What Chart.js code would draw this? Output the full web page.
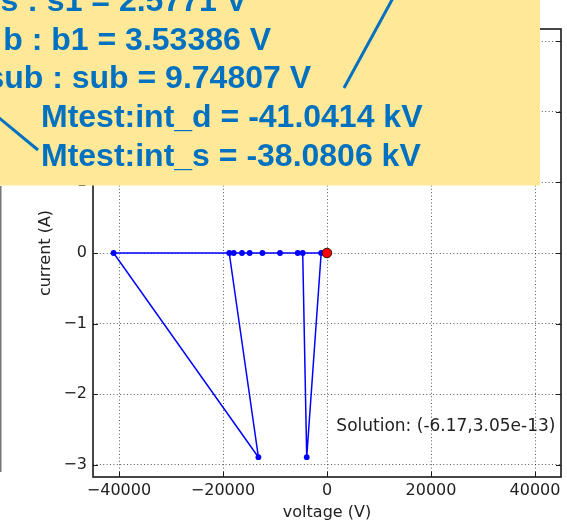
<!DOCTYPE html>
<html>
<head>
<meta charset="utf-8">
<script src="https://cdn.jsdelivr.net/npm/chart.js@4.4.1/dist/chart.umd.min.js"></script>
<style>
  html, body { margin: 0; padding: 0; background: #fff; }
  canvas { display: block; }
</style>
</head>
<body>
<canvas id="ivPlot" width="567" height="523"></canvas>
<script>
// newton iteration path: voltage (V) / current (A)
var iterVoltage = [-1120, -3900, -4670, -5630, -9040, -12420, -14870, -16350, -17940, -18800, -13190, -41041, -6.17];
var iterCurrent = [0, -2.89, 0, 0, 0, 0, 0, 0, 0, 0, -2.89, 0, 3.05e-13];

// converged point
var solVoltage = [-6.17];
var solCurrent = [3.05e-13];

var xTicks = [-40000, -20000, 0, 20000, 40000];
var yTicks = [-3, -2, -1, 0, 1, 2, 3];

// node voltages shown in the callout box
var calloutText = [
  's : s1 = 2.5771 V',
  'b : b1 = 3.53386 V',
  'sub : sub = 9.74807 V',
  'Mtest:int_d = -41.0414 kV',
  'Mtest:int_s = -38.0806 kV'
];

function toPoints(xs, ys) {
  var pts = [];
  for (var i = 0; i < xs.length; i++) pts.push({x: xs[i], y: ys[i]});
  return pts;
}

function tickText(v) {
  return v < 0 ? '\u2212' + Math.abs(v) : String(v);
}

var textColor = '#222';
var blue = '#0000ff';

// box around the axes + inward tick marks on all four sides
var framePlugin = {
  id: 'frame',
  afterDatasetsDraw: function(chart) {
    var ctx = chart.ctx, a = chart.chartArea;
    var xs = chart.scales.x, ys = chart.scales.y;
    var len = 5;
    ctx.save();
    ctx.strokeStyle = '#1a1a1a';
    ctx.lineWidth = 1;
    ctx.beginPath();
    xTicks.forEach(function(v) {
      var px = Math.round(xs.getPixelForValue(v)) + 0.5;
      ctx.moveTo(px, a.bottom); ctx.lineTo(px, a.bottom - len);
      ctx.moveTo(px, a.top); ctx.lineTo(px, a.top + len);
    });
    yTicks.forEach(function(v) {
      var py = Math.round(ys.getPixelForValue(v)) + 0.5;
      ctx.moveTo(a.left, py); ctx.lineTo(a.left + len, py);
      ctx.moveTo(a.right, py); ctx.lineTo(a.right - len, py);
    });
    ctx.stroke();
    ctx.lineWidth = 1.6;
    ctx.strokeRect(a.left, a.top, a.right - a.left, a.bottom - a.top);

    // solution label
    var label = 'Solution: (' + solVoltage[0].toFixed(2) + ',' + solCurrent[0].toExponential(2) + ')';
    ctx.font = '17px "DejaVu Sans"';
    ctx.fillStyle = textColor;
    ctx.textAlign = 'left';
    ctx.textBaseline = 'middle';
    ctx.fillText(label, xs.getPixelForValue(1800), ys.getPixelForValue(-2.46));
    ctx.restore();
  }
};

// yellow callout pasted over the top of the figure
var calloutPlugin = {
  id: 'callout',
  afterDraw: function(chart) {
    var ctx = chart.ctx;
    ctx.save();
    // edge of the neighbouring panel
    ctx.strokeStyle = '#777';
    ctx.lineWidth = 1.5;
    ctx.beginPath();
    ctx.moveTo(0.75, 186); ctx.lineTo(0.75, 472);
    ctx.stroke();

    ctx.fillStyle = '#ffe999';
    ctx.fillRect(0, 0, 540, 185.5);

    ctx.fillStyle = '#0070c0';
    ctx.font = 'bold 32px "Liberation Sans", Arial, sans-serif';
    ctx.textBaseline = 'alphabetic';
    var rightEnds = [247, 271, 311];
    var baselines = [11, 49.5, 88, 127, 165.5];
    calloutText.forEach(function(t, i) {
      if (i < 3) {
        ctx.textAlign = 'right';
        ctx.fillText(t, rightEnds[i], baselines[i]);
      } else {
        ctx.textAlign = 'left';
        ctx.fillText(t, 41, baselines[i]);
      }
    });

    ctx.strokeStyle = '#0070c0';
    ctx.lineWidth = 3;
    ctx.beginPath();
    ctx.moveTo(393, -2); ctx.lineTo(344, 88);
    ctx.moveTo(-2, 117); ctx.lineTo(38, 150);
    ctx.stroke();
    ctx.restore();
  }
};

new Chart(document.getElementById('ivPlot'), {
  type: 'scatter',
  data: {
    datasets: [
      {
        label: 'solution',
        data: toPoints(solVoltage, solCurrent),
        order: 0,
        pointRadius: 4.8,
        pointBackgroundColor: '#ff0000',
        pointBorderColor: '#000',
        pointBorderWidth: 0.8
      },
      {
        label: 'iterations',
        data: toPoints(iterVoltage, iterCurrent),
        order: 1,
        showLine: true,
        borderColor: blue,
        borderWidth: 1.5,
        pointRadius: 2.9,
        pointBackgroundColor: blue,
        pointBorderWidth: 0
      }
    ]
  },
  options: {
    responsive: false,
    animation: false,
    events: [],
    layout: { padding: { left: 0, right: 6, top: 29, bottom: 0 } },
    plugins: { legend: { display: false }, tooltip: { enabled: false } },
    scales: {
      x: {
        type: 'linear',
        min: -45000,
        max: 45000,
        afterBuildTicks: function(s) { s.ticks = xTicks.map(function(v) { return {value: v}; }); },
        afterFit: function(s) { s.height = 46; },
        grid: { color: 'rgba(0,0,0,0.65)', lineWidth: 1, drawTicks: false },
        border: { display: false, dash: [1, 2.4] },
        ticks: {
          padding: 4,
          maxRotation: 0,
          color: textColor,
          font: { family: 'DejaVu Sans', size: 16 },
          callback: tickText
        },
        title: {
          display: true,
          text: 'voltage (V)',
          color: textColor,
          font: { family: 'DejaVu Sans', size: 16 },
          padding: { top: 1, bottom: 1 }
        }
      },
      y: {
        type: 'linear',
        min: -3.17,
        max: 3.17,
        afterBuildTicks: function(s) { s.ticks = yTicks.map(function(v) { return {value: v}; }); },
        afterFit: function(s) { s.width = 93; },
        grid: { color: 'rgba(0,0,0,0.65)', lineWidth: 1, drawTicks: false },
        border: { display: false, dash: [1, 2.4] },
        ticks: {
          padding: 6,
          color: textColor,
          font: { family: 'DejaVu Sans', size: 16 },
          callback: tickText
        },
        title: {
          display: true,
          text: 'current (A)',
          color: textColor,
          font: { family: 'DejaVu Sans', size: 16 },
          padding: { top: 36, bottom: 0 }
        }
      }
    }
  },
  plugins: [framePlugin, calloutPlugin]
});
</script>
</body>
</html>
